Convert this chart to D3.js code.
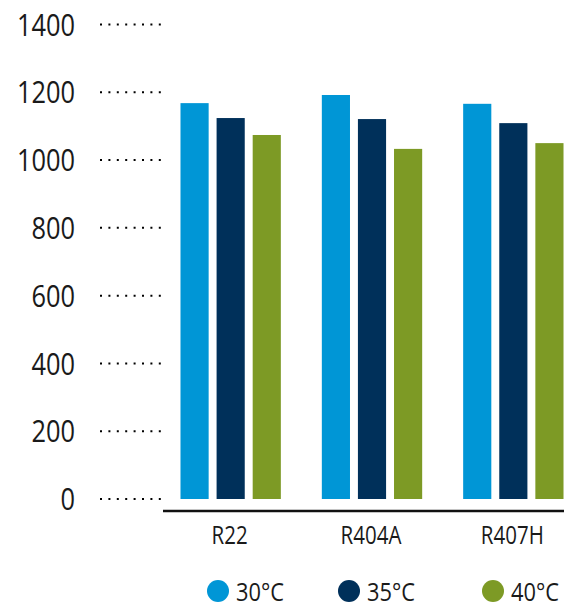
<!DOCTYPE html>
<html>
<head>
<meta charset="utf-8">
<script src="https://cdn.jsdelivr.net/npm/d3@7"></script>
<style>
  body { margin: 0; background: #fff; }
  text { font-family: "Open Sans", "Noto Sans", sans-serif; fill: #1a1a1a; }
</style>
</head>
<body>
<div id="chart"></div>
<script>
// data
const categories = ["R22", "R404A", "R407H"];
const series = ["30°C", "35°C", "40°C"];
const values30 = [1168, 1192, 1166];
const values35 = [1124, 1121, 1109];
const values40 = [1074, 1033, 1050];
const yTicks = [0, 200, 400, 600, 800, 1000, 1200, 1400];
const colors = ["#0096d6", "#00305a", "#7d9a25"];

const W = 571, H = 607;
const squeeze = 0.82; // narrow the glyphs a bit, the source font is condensed

const svg = d3.select("#chart")
  .append("svg")
    .attr("width", W)
    .attr("height", H);

const table = [values30, values35, values40];

// scales
const y = d3.scaleLinear()
  .domain([0, 1400])
  .range([499, 24.5]);

const x0 = d3.scaleBand()
  .domain(categories)
  .range([160, 584])
  .paddingInner(0.29)
  .paddingOuter(0.145);

const x1 = d3.scaleBand()
  .domain(series)
  .range([0, x0.bandwidth()])
  .paddingInner(0.22);

// dotted tick marks + labels on the left
const yg = svg.append("g");
yg.selectAll("line")
  .data(yTicks)
  .join("line")
    .attr("x1", 100)
    .attr("x2", 161)
    .attr("y1", d => y(d))
    .attr("y2", d => y(d))
    .attr("stroke", "#000")
    .attr("stroke-width", 2)
    .attr("stroke-dasharray", "2,6.4");

yg.selectAll("text")
  .data(yTicks)
  .join("text")
    .attr("transform", d => `translate(75,${y(d)}) scale(${squeeze},1)`)
    .attr("text-anchor", "end")
    .attr("dy", "0.36em")
    .attr("font-size", "31px")
    .text(d => d);

// bars
const groups = svg.selectAll("g.grp")
  .data(categories)
  .join("g")
    .attr("class", "grp")
    .attr("transform", d => `translate(${x0(d)},0)`);

groups.selectAll("rect")
  .data((c, i) => series.map((s, j) => ({s: s, j: j, v: table[j][i]})))
  .join("rect")
    .attr("x", d => x1(d.s))
    .attr("y", d => y(d.v))
    .attr("width", x1.bandwidth())
    .attr("height", d => y(0) - y(d.v))
    .attr("fill", d => colors[d.j]);

// baseline
svg.append("line")
  .attr("x1", 163)
  .attr("x2", 564)
  .attr("y1", 511)
  .attr("y2", 511)
  .attr("stroke", "#111")
  .attr("stroke-width", 2.5);

// category labels
svg.selectAll("text.cat")
  .data(categories)
  .join("text")
    .attr("class", "cat")
    .attr("transform", d => `translate(${x0(d) + x0.bandwidth() / 2 - 1},544) scale(${squeeze},1)`)
    .attr("text-anchor", "middle")
    .attr("font-size", "25px")
    .text(d => d);

// legend
const legendX = [218, 349, 493];
const lg = svg.selectAll("g.leg")
  .data(series)
  .join("g")
    .attr("class", "leg")
    .attr("transform", (d, i) => `translate(${legendX[i]},591)`);

lg.append("circle")
  .attr("r", 11)
  .attr("fill", (d, i) => colors[i]);

lg.append("text")
  .attr("transform", `translate(18,9.5) scale(${squeeze + 0.02},1)`)
  .attr("font-size", "26px")
  .text(d => d);
</script>
</body>
</html>
